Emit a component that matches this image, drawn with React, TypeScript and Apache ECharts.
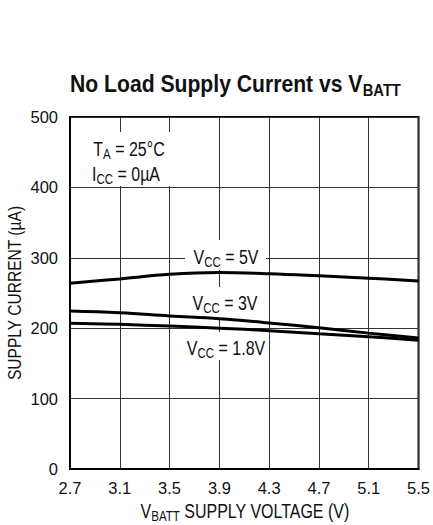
import React, { useEffect, useRef } from "react";
import * as echarts from "echarts";

// Data
const vbatt = [2.7, 3.1, 3.5, 3.9, 4.3, 4.7, 5.1, 5.5];
const vcc5 = [264, 270, 276.5, 279, 277.5, 274.5, 271, 267];
const vcc3 = [224.5, 222, 217.5, 213.5, 207.5, 200.5, 193, 186];
const vcc18 = [207, 205.5, 203, 200, 196.5, 192, 188, 183];
const seriesNames = ["VCC = 5V", "VCC = 3V", "VCC = 1.8V"];

const REG = "'Liberation Sans', Arial, sans-serif";
const COND = 0.82;

const pair = (ys: number[]) => vbatt.map((x, i) => [x, ys[i]]);

export default function App() {
  const ref = useRef<HTMLDivElement>(null);
  useEffect(() => {
    if (!ref.current) return;
    const chart = echarts.init(ref.current, undefined, { renderer: "svg" });
    const line = (name: string, ys: number[]) => ({
      name,
      type: "line",
      data: pair(ys),
      smooth: 0.4,
      showSymbol: false,
      symbol: "none",
      lineStyle: { color: "#000", width: 3 },
      z: 2,
    });
    const subRich = (size: number, sub: number, pad: number, weight = "normal") => ({
      m: { fontSize: size, fontFamily: REG, fontWeight: weight, fill: "#111", color: "#111" },
      s: { fontSize: sub, fontFamily: REG, fontWeight: weight, fill: "#111", color: "#111", padding: [pad, 0, 0, 0] },
    });
    const annRich = subRich(19.5, 14, 11);
    const txt = (x: number, y: number, text: string, rich: any, extra: any = {}) => ({
      type: "text",
      x,
      y,
      z: 10,
      scaleX: COND,
      ...extra,
      style: {
        text,
        align: "center",
        verticalAlign: "middle",
        rich,
      },
    });
    const box = (x: number, y: number, w: number, h: number) => ({
      type: "rect",
      z: 1,
      shape: { x, y, width: w, height: h },
      style: { fill: "#fff" },
    });
    chart.setOption({
      animation: false,
      backgroundColor: "#fff",
      grid: {
        left: 70,
        right: 12,
        top: 117,
        bottom: 56,
        show: true,
        borderColor: "#000",
        borderWidth: 2,
        backgroundColor: "transparent",
      },
      xAxis: {
        type: "value",
        min: 2.7,
        max: 5.5,
        interval: 0.4,
        axisLine: { show: true, lineStyle: { color: "#000", width: 2 } },
        axisTick: { show: false },
        splitLine: { show: true, lineStyle: { color: "#333", width: 1 } },
        axisLabel: {
          color: "#111",
          fontFamily: REG,
          fontSize: 16.5,
          margin: 10,
          formatter: (v: number) => v.toFixed(1),
        },
      },
      yAxis: {
        type: "value",
        min: 0,
        max: 500,
        interval: 100,
        axisLine: { show: true, lineStyle: { color: "#000", width: 2 } },
        axisTick: { show: false },
        splitLine: { show: true, lineStyle: { color: "#333", width: 1 } },
        axisLabel: { color: "#111", fontFamily: REG, fontSize: 16.5, margin: 12 },
      },
      graphic: [
        {
          type: "text",
          x: 70,
          y: 84,
          z: 10,
          scaleX: 0.92,
          style: {
            text: "{m|No Load Supply Current vs V}{s|BATT}",
            align: "left",
            verticalAlign: "middle",
            rich: subRich(23, 16, 12, "bold"),
          },
        },
        // y-axis title
        txt(14, 293, "{m|SUPPLY CURRENT (µA)}", { m: { fontSize: 19, fontFamily: REG, fill: "#111", color: "#111" } }, { rotation: Math.PI / 2 }),
        // x-axis title
        txt(245, 511, "{m|V}{s|BATT}{m| SUPPLY VOLTAGE (V)}", subRich(19.5, 14, 10)),
        box(84, 132, 92, 54),
        box(185, 240, 81, 30),
        box(187, 287, 77, 31),
        box(183, 332, 86, 28),
        txt(129, 149, "{m|T}{s|A}{m| = 25°C}", annRich),
        txt(126, 174, "{m|I}{s|CC}{m| = 0µA}", annRich),
        txt(226, 257, "{m|V}{s|CC}{m| = 5V}", annRich),
        txt(225, 303, "{m|V}{s|CC}{m| = 3V}", annRich),
        txt(226, 348, "{m|V}{s|CC}{m| = 1.8V}", annRich),
      ],
      series: [
        line(seriesNames[0], vcc5),
        line(seriesNames[1], vcc3),
        line(seriesNames[2], vcc18),
      ],
    });
    return () => chart.dispose();
  }, []);
  return <div ref={ref} style={{ width: 433, height: 525, position: "absolute", left: 0, top: 0 }} />;
}
